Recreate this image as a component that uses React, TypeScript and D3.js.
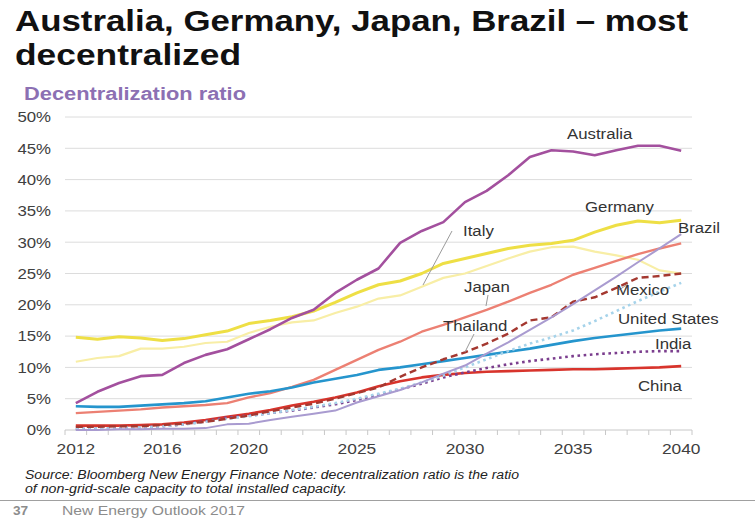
import React from "react";
import * as d3 from "d3";

const years = [2012, 2013, 2014, 2015, 2016, 2017, 2018, 2019, 2020, 2021, 2022, 2023, 2024, 2025, 2026, 2027, 2028, 2029, 2030, 2031, 2032, 2033, 2034, 2035, 2036, 2037, 2038, 2039, 2040];
const xTickLabels = [2012, 2016, 2020, 2025, 2030, 2035, 2040];
const yTicks = [0, 5, 10, 15, 20, 25, 30, 35, 40, 45, 50];

const australia = [4.3, 6.1, 7.5, 8.6, 8.8, 10.7, 12.0, 12.9, 14.5, 16.1, 17.9, 19.2, 21.9, 24.0, 25.8, 29.9, 31.8, 33.2, 36.4, 38.2, 40.7, 43.6, 44.7, 44.5, 43.9, 44.7, 45.4, 45.4, 44.6];
const germany = [14.8, 14.5, 14.9, 14.7, 14.3, 14.6, 15.2, 15.8, 17.0, 17.5, 18.1, 19.0, 20.4, 21.9, 23.2, 23.8, 25.0, 26.6, 27.4, 28.2, 29.0, 29.5, 29.8, 30.3, 31.6, 32.7, 33.4, 33.1, 33.5];
const italy = [10.9, 11.5, 11.8, 13.0, 13.0, 13.3, 13.9, 14.1, 15.5, 16.5, 17.2, 17.5, 18.7, 19.7, 21.0, 21.5, 22.9, 24.3, 25.0, 26.2, 27.4, 28.5, 29.2, 29.3, 28.5, 27.9, 27.2, 25.5, 25.0];
const japan = [2.7, 2.9, 3.1, 3.3, 3.6, 3.8, 4.0, 4.3, 5.2, 5.9, 6.9, 8.0, 9.6, 11.2, 12.8, 14.1, 15.7, 16.8, 18.0, 19.2, 20.5, 21.9, 23.2, 24.8, 25.9, 27.0, 28.1, 29.0, 29.8];
const brazil = [0.0, 0.0, 0.1, 0.1, 0.2, 0.2, 0.3, 0.9, 1.0, 1.6, 2.1, 2.6, 3.1, 4.4, 5.4, 6.4, 7.6, 9.0, 10.3, 12.2, 14.0, 16.0, 18.0, 20.1, 22.3, 24.5, 26.8, 29.0, 31.3];
const mexico = [0.5, 0.5, 0.6, 0.6, 0.8, 1.0, 1.3, 1.8, 2.3, 3.0, 3.6, 4.2, 5.0, 5.9, 6.8, 8.5, 10.0, 11.3, 12.4, 13.8, 15.4, 17.5, 18.0, 20.5, 21.2, 22.7, 24.3, 24.6, 25.0];
const thailand = [0.1, 0.2, 0.3, 0.4, 0.6, 0.9, 1.3, 1.8, 2.2, 2.7, 3.2, 3.7, 4.3, 5.0, 5.8, 6.6, 7.6, 8.7, 10.0, 11.3, 12.6, 13.8, 14.8, 15.9, 17.4, 19.0, 20.6, 22.1, 23.5];
const unitedStates = [3.8, 3.7, 3.7, 3.9, 4.1, 4.3, 4.6, 5.2, 5.8, 6.2, 6.8, 7.6, 8.2, 8.8, 9.6, 10.0, 10.5, 11.0, 11.5, 12.0, 12.5, 13.0, 13.6, 14.2, 14.7, 15.1, 15.5, 15.9, 16.2];
const india = [0.2, 0.2, 0.3, 0.4, 0.6, 0.9, 1.4, 2.0, 2.3, 2.7, 3.1, 3.6, 4.1, 4.8, 5.6, 6.5, 7.4, 8.4, 9.2, 9.9, 10.5, 11.0, 11.4, 11.8, 12.1, 12.3, 12.5, 12.6, 12.6];
const china = [0.7, 0.7, 0.7, 0.8, 0.9, 1.2, 1.6, 2.1, 2.6, 3.2, 3.9, 4.5, 5.2, 6.0, 7.0, 7.8, 8.4, 8.8, 9.1, 9.3, 9.4, 9.5, 9.6, 9.7, 9.7, 9.8, 9.9, 10.0, 10.2];

const seriesNames = ["Italy", "Germany", "Japan", "United States", "China", "India", "Thailand", "Mexico", "Brazil", "Australia"];
const seriesValues = [italy, germany, japan, unitedStates, china, india, thailand, mexico, brazil, australia];

const styles: Record<string, { color: string; width: number; dash?: string }> = {
  Italy: { color: "#F8EEA6", width: 2.2 },
  Germany: { color: "#EEDF45", width: 3 },
  Japan: { color: "#EC8073", width: 2.4 },
  "United States": { color: "#2595CD", width: 2.6 },
  China: { color: "#D8342C", width: 2.6 },
  India: { color: "#7B3E8E", width: 2.6, dash: "2.6,3.6" },
  Thailand: { color: "#A6D3EA", width: 2.6, dash: "2.6,3.6" },
  Mexico: { color: "#A43830", width: 2.4, dash: "7,4" },
  Brazil: { color: "#A99BD0", width: 2 },
  Australia: { color: "#A3509E", width: 2.6 },
};

const labelLayout: { text: string; x: number; y: number }[] = [
  { text: "Australia", x: 567, y: 139 },
  { text: "Germany", x: 585, y: 212 },
  { text: "Brazil", x: 678, y: 233 },
  { text: "Italy", x: 463, y: 236 },
  { text: "Japan", x: 464, y: 292 },
  { text: "Mexico", x: 616, y: 295 },
  { text: "Thailand", x: 443, y: 331 },
  { text: "United States", x: 618, y: 324 },
  { text: "India", x: 655, y: 349 },
  { text: "China", x: 638, y: 391 },
];

const leaders = [
  [452, 231, 423, 285],
  [488, 295, 486, 306],
  [474, 334, 465, 352],
  [619, 290, 628, 284],
];

const SX = 1.12;

function T(props: any) {
  const { x, y, sx = SX, children, ...rest } = props;
  return (
    <text transform={`translate(${x},${y}) scale(${sx},1)`} {...rest}>
      {children}
    </text>
  );
}

export default function App() {
  const W = 755;
  const H = 531;
  const left = 65;
  const right = 692;
  const x = d3.scalePoint<number>().domain(years).range([left, right]).padding(0.5);
  const band = d3.scaleBand<number>().domain(years).range([left, right]);
  const y = d3.scaleLinear().domain([0, 50]).range([430, 117]);
  const line = d3
    .line<number>()
    .x((_, i) => x(years[i]) as number)
    .y((d) => y(d));

  const boundaries = years.map((yr) => band(yr) as number).concat([right]);
  const font = "'Liberation Sans', Arial, Helvetica, sans-serif";

  return (
    <div style={{ position: "absolute", left: 0, top: 0 }}>
      <svg width={W} height={H} style={{ display: "block", background: "#fff" }} fontFamily={font}>
        <rect x={0} y={0} width={W} height={H} fill="#fff" />
        <text x={15} y={31} fontSize={30} fontWeight="bold" fill="#111" textLength={673} lengthAdjust="spacingAndGlyphs">
          Australia, Germany, Japan, Brazil – most
        </text>
        <text x={15} y={65} fontSize={30} fontWeight="bold" fill="#111" textLength={226} lengthAdjust="spacingAndGlyphs">
          decentralized
        </text>
        <text x={24} y={100} fontSize={18} fontWeight="bold" fill="#8C70B3" textLength={222} lengthAdjust="spacingAndGlyphs">
          Decentralization ratio
        </text>

        {yTicks.map((t) => (
          <g key={t}>
            <line x1={left} x2={right} y1={y(t)} y2={y(t)} stroke={t === 0 ? "#C8C8C8" : "#DCDCDC"} strokeWidth={1} />
            <T x={51} y={y(t) + 5.3} fontSize={15} fill="#404040" textAnchor="end">
              {t}%
            </T>
          </g>
        ))}
        {boundaries.map((bx, i) => (
          <line key={i} x1={bx} x2={bx} y1={y(0)} y2={y(0) + 5} stroke="#C8C8C8" strokeWidth={1} />
        ))}
        {xTickLabels.map((yr) => (
          <T key={yr} x={x(yr) as number} y={454} fontSize={15.5} fill="#404040" textAnchor="middle">
            {yr}
          </T>
        ))}

        {seriesNames.map((name, i) => {
          const s = styles[name];
          return (
            <path
              key={name}
              d={line(seriesValues[i]) as string}
              fill="none"
              stroke={s.color}
              strokeWidth={s.width}
              strokeDasharray={s.dash}
              strokeLinejoin="round"
            />
          );
        })}

        {leaders.map((l, i) => (
          <line key={i} x1={l[0]} y1={l[1]} x2={l[2]} y2={l[3]} stroke="#9A9A9A" strokeWidth={1} />
        ))}
        {labelLayout.map((l) => (
          <T key={l.text} x={l.x} y={l.y} fontSize={15} fill="#333">
            {l.text}
          </T>
        ))}

        <text x={25} y={479} fontSize={12} fontStyle="italic" fill="#222" textLength={494} lengthAdjust="spacingAndGlyphs">
          Source: Bloomberg New Energy Finance  Note: decentralization ratio is the ratio
        </text>
        <text x={25} y={493} fontSize={12} fontStyle="italic" fill="#222" textLength={322} lengthAdjust="spacingAndGlyphs">
          of non-grid-scale capacity to total installed capacity.
        </text>
        <line x1={0} x2={W} y1={500.5} y2={500.5} stroke="#A0A0A0" strokeWidth={1.2} />
        <T x={13} y={515} sx={1.05} fontSize={13} fill="#8C8C8C" fontWeight="bold">
          37
        </T>
        <text x={62} y={515} fontSize={13} fill="#8C8C8C" textLength={183} lengthAdjust="spacingAndGlyphs">
          New Energy Outlook 2017
        </text>
      </svg>
    </div>
  );
}
